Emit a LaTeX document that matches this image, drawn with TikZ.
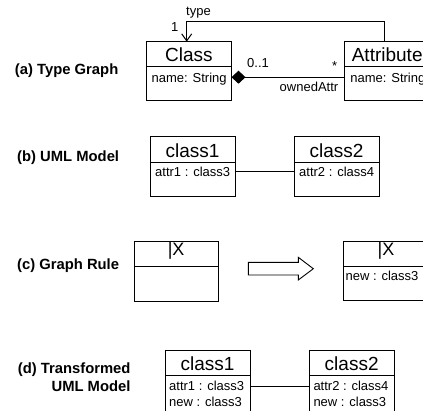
\documentclass[tikz,border=0pt]{standalone}
\usepackage{fontspec}
\setmainfont{Liberation Sans}
\usetikzlibrary{arrows.meta,calc}
\begin{document}
\begin{tikzpicture}[x=1pt,y=-1pt,
  box/.style={draw, line width=1pt, inner sep=0pt, outer sep=0pt, minimum width=85pt, anchor=north west},
  hdtxt/.style={font=\fontsize{19}{22}\selectfont, inner sep=0pt, anchor=base},
  attxt/.style={font=\fontsize{13}{15}\selectfont, inner sep=0pt, anchor=base west},
  lbl/.style={font=\fontsize{14.8}{17}\selectfont\bfseries, inner sep=0pt, anchor=base east},
  sm/.style={font=\fontsize{13}{15}\selectfont, inner sep=0pt, anchor=base},
  conn/.style={line width=1pt}]
\useasboundingbox (0,0) rectangle (423,410);
\clip (0,0) rectangle (423,410);

% ---------- (a) Type Graph ----------
\node[lbl] (la) at (118.5,74.5) {(a) Type Graph};
\node[box, minimum height=25pt] (clsH) at (146.5,41.7) {};
\node[box, minimum height=34pt] (clsB) at (clsH.south west) {};
\node[hdtxt] (clsT) at ($(clsH.south)+(0,-5.5)$) {Class};
\node[attxt] (clsA) at ($(clsB.north west)+(5,15.5)$) {name: String};

\node[box, minimum height=25pt] (atH) at (344.7,41.7) {};
\node[box, minimum height=34pt] (atB) at (atH.south west) {};
\node[hdtxt] (atT) at ($(atH.south)+(0,-5.5)$) {Attribute};
\node[attxt] (atA) at ($(atB.north west)+(5.5,15.5)$) {name: String};

\coordinate (cmpS) at ($(clsB.north east)+(0,10.5)$);
\draw[conn, {Diamond[length=14pt,width=13pt]}-] (cmpS) -- (cmpS -| atB.west);
\node[sm] (m01) at (258,67) {0..1};
\node[sm] (mst) at (334.7,70) {*};
\node[sm] (own) at (309,91.5) {ownedAttr};

\coordinate (tyS) at ($(atH.north west)+(40,0)$);
\coordinate (tyE) at ($(clsH.north west)+(40.2,0)$);
\draw[conn, -{Straight Barb[length=7pt,width=10pt]}] (tyS) -- ++(0,-20) -| (tyE);
\node[sm] (ty) at (198.5,15.5) {type};
\node[sm] (one) at (174.7,31.5) {1};

% ---------- (b) UML Model ----------
\node[lbl] (lb) at (119.3,161.5) {(b) UML Model};
\node[box, minimum height=25.6pt] (b1H) at (150,136.7) {};
\node[box, minimum height=34.4pt] (b1B) at (b1H.south west) {};
\node[hdtxt] (b1T) at ($(b1H.south)+(0,-4.5)$) {class1};
\node[attxt] (b1A) at ($(b1B.north west)+(5,14.5)$) {attr1 : class3};

\node[box, minimum height=25.6pt] (b2H) at (294,136.7) {};
\node[box, minimum height=34.4pt] (b2B) at (b2H.south west) {};
\node[hdtxt] (b2T) at ($(b2H.south)+(0,-4.5)$) {class2};
\node[attxt] (b2A) at ($(b2B.north west)+(5,14.5)$) {attr2 : class4};

\coordinate (bc) at ($(b1B.north east)+(0,9.4)$);
\draw[conn] (bc) -- (bc -| b2B.west);

% ---------- (c) Graph Rule ----------
\node[lbl] (lc) at (119.3,269) {(c) Graph Rule};
\node[box, minimum width=84.3pt, minimum height=25pt] (c1H) at (134,241.7) {};
\node[box, minimum width=84.3pt, minimum height=35pt] (c1B) at (c1H.south west) {};
\node[hdtxt, font=\fontsize{18}{20}\selectfont] (c1T) at ($(c1H.south)+(0,-11.5)$) {|X};

\node[box, minimum height=25pt] (c2H) at (343.5,241.7) {};
\node[box, minimum height=34pt] (c2B) at (c2H.south west) {};
\node[hdtxt, font=\fontsize{18}{20}\selectfont] (c2T) at ($(c2H.south)+(0,-11.5)$) {|X};
\node[attxt] (c2A) at ($(c2B.north west)+(2,13.5)$) {new : class3};

\draw[conn, line width=0.9pt] (248.3,262.3) -- (298.3,262.3) -- (298.3,257.3) -- (313.3,268.7)
  -- (298.3,280) -- (298.3,275) -- (248.3,275) -- cycle;

% ---------- (d) Transformed UML Model ----------
\node[lbl] (ld1) at (130.7,373) {(d) Transformed};
\node[lbl] (ld2) at (130.7,391) {UML Model};
\node[box, minimum height=24.3pt] (d1H) at (165,350.7) {};
\node[box, minimum height=45pt] (d1B) at (d1H.south west) {};
\node[hdtxt] (d1T) at ($(d1H.south)+(0,-4.5)$) {class1};
\node[attxt] (d1A) at ($(d1B.north west)+(4,15.5)$) {attr1 : class3};
\node[attxt] (d1N) at ($(d1B.north west)+(4,31)$) {new : class3};

\node[box, minimum width=84.7pt, minimum height=24.3pt] (d2H) at (309.3,350.7) {};
\node[box, minimum width=84.7pt, minimum height=45pt] (d2B) at (d2H.south west) {};
\node[hdtxt] (d2T) at ($(d2H.south)+(0,-4.5)$) {class2};
\node[attxt] (d2A) at ($(d2B.north west)+(4,15.5)$) {attr2 : class4};
\node[attxt] (d2N) at ($(d2B.north west)+(4,31)$) {new : class3};

\coordinate (dc) at ($(d1B.north east)+(0,11.7)$);
\draw[conn] (dc) -- (dc -| d2B.west);
\end{tikzpicture}
\end{document}
